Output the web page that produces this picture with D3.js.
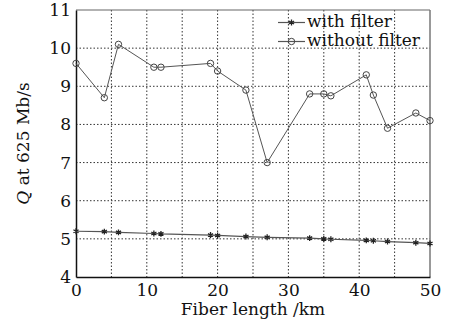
<!DOCTYPE html>
<html>
<head>
<meta charset="utf-8">
<script src="https://cdn.jsdelivr.net/npm/d3@7"></script>
<style>
  body { margin: 0; background: #fff; }
  svg text { font-family: "DejaVu Serif", "Liberation Serif", serif; fill: #111; }
</style>
</head>
<body>
<div id="chart"></div>
<script>
// fiber length (km) where Q was measured
var lengths = [0, 4, 6, 11, 12, 19, 20, 24, 27, 33, 35, 36, 41, 42, 44, 48, 50];
var withFilter = [5.2, 5.19, 5.17, 5.14, 5.13, 5.1, 5.09, 5.06, 5.04, 5.02, 5.0, 4.99, 4.96, 4.95, 4.93, 4.9, 4.88];
var withoutFilter = [9.6, 8.7, 10.1, 9.5, 9.5, 9.6, 9.4, 8.9, 7.0, 8.8, 8.8, 8.75, 9.3, 8.77, 7.9, 8.3, 8.1];
var xTicks = [0, 10, 20, 30, 40, 50];
var yTicks = [4, 5, 6, 7, 8, 9, 10, 11];

var width = 453, height = 326;
var margin = { top: 10, right: 23, bottom: 49, left: 76 };
var plot_w = width - margin.left - margin.right;
var plot_h = height - margin.top - margin.bottom;

var svg = d3.select('#chart').append('svg')
    .attr('width', width)
    .attr('height', height);

var x = d3.scaleLinear().domain([0, 50]).range([0, plot_w]);
var y = d3.scaleLinear().domain([4, 11]).range([plot_h, 0]);

var g = svg.append('g')
    .attr('transform', 'translate(' + margin.left + ',' + margin.top + ')');

// dotted grid
g.append('g').selectAll('line')
    .data(d3.range(5, 50, 5))
    .enter().append('line')
    .attr('x1', function (d) { return x(d); })
    .attr('x2', function (d) { return x(d); })
    .attr('y1', 0).attr('y2', plot_h)
    .attr('stroke', '#333').attr('stroke-width', 1)
    .attr('stroke-dasharray', '1.5,2');
g.append('g').selectAll('line')
    .data(d3.range(5, 11, 1))
    .enter().append('line')
    .attr('y1', function (d) { return y(d); })
    .attr('y2', function (d) { return y(d); })
    .attr('x1', 0).attr('x2', plot_w)
    .attr('stroke', '#333').attr('stroke-width', 1)
    .attr('stroke-dasharray', '1.5,2');

// frame
g.append('line').attr('x1', 0).attr('x2', plot_w).attr('y1', 0).attr('y2', 0)
    .attr('stroke', '#666').attr('stroke-width', 1.2);
g.append('line').attr('x1', plot_w).attr('x2', plot_w).attr('y1', 0).attr('y2', plot_h)
    .attr('stroke', '#777').attr('stroke-width', 1.5);

var xAxis = g.append('g')
    .attr('transform', 'translate(0,' + plot_h + ')')
    .call(d3.axisBottom(x).tickValues(xTicks).tickFormat(d3.format('d')).tickSize(0).tickPadding(7));
var yAxis = g.append('g')
    .call(d3.axisLeft(y).tickValues(yTicks).tickFormat(d3.format('d')).tickSize(0).tickPadding(5));

[xAxis, yAxis].forEach(function (a) {
    a.select('.domain').attr('stroke', '#111').attr('stroke-width', 1.5);
    a.selectAll('text').attr('font-size', 17).attr('font-family', '"DejaVu Serif", serif').attr('fill', '#111');
});

// series
var line = function (vals) {
    return d3.line()
        .x(function (d, i) { return x(lengths[i]); })
        .y(function (d) { return y(d); })(vals);
};

g.append('path').attr('d', line(withFilter))
    .attr('fill', 'none').attr('stroke', '#555').attr('stroke-width', 1.2);
g.append('path').attr('d', line(withoutFilter))
    .attr('fill', 'none').attr('stroke', '#555').attr('stroke-width', 1);

var drawStar = function (sel) {
    sel.attr('d', d3.symbol().type(d3.symbolAsterisk).size(24))
        .attr('fill', 'none').attr('stroke', '#222').attr('stroke-width', 1.3);
};
var drawCircle = function (sel) {
    sel.attr('r', 3.2).attr('fill', 'none').attr('stroke', '#444').attr('stroke-width', 1);
};

g.selectAll('.star').data(withFilter).enter().append('path')
    .attr('class', 'star')
    .attr('transform', function (d, i) { return 'translate(' + x(lengths[i]) + ',' + y(d) + ')'; })
    .call(drawStar);

g.selectAll('.circ').data(withoutFilter).enter().append('circle')
    .attr('class', 'circ')
    .attr('cx', function (d, i) { return x(lengths[i]); })
    .attr('cy', function (d) { return y(d); })
    .call(drawCircle);

// legend
var legend = svg.append('g').attr('transform', 'translate(278, 0)');
var legendItems = [
    { name: 'with filter', y: 22.5, mark: 'star' },
    { name: 'without filter', y: 41.5, mark: 'circle' }
];
legendItems.forEach(function (it) {
    legend.append('line').attr('x1', 0).attr('x2', 27).attr('y1', it.y).attr('y2', it.y)
        .attr('stroke', '#555').attr('stroke-width', 1.2);
    if (it.mark === 'star') {
        legend.append('path').attr('transform', 'translate(13.5,' + it.y + ')').call(drawStar);
    } else {
        legend.append('circle').attr('cx', 13.5).attr('cy', it.y).call(drawCircle);
    }
    legend.append('text').attr('x', 29).attr('y', it.y + 4.5)
        .attr('font-size', 17).text(it.name);
});

// axis titles
svg.append('text')
    .attr('x', margin.left + plot_w / 2).attr('y', 315)
    .attr('text-anchor', 'middle').attr('font-size', 17)
    .text('Fiber length /km');

var yt = svg.append('text')
    .attr('transform', 'translate(29,' + (margin.top + plot_h / 2) + ') rotate(-90)')
    .attr('text-anchor', 'middle').attr('font-size', 17);
yt.append('tspan').attr('font-style', 'italic').text('Q');
yt.append('tspan').text(' at 625 Mb/s');
</script>
</body>
</html>
